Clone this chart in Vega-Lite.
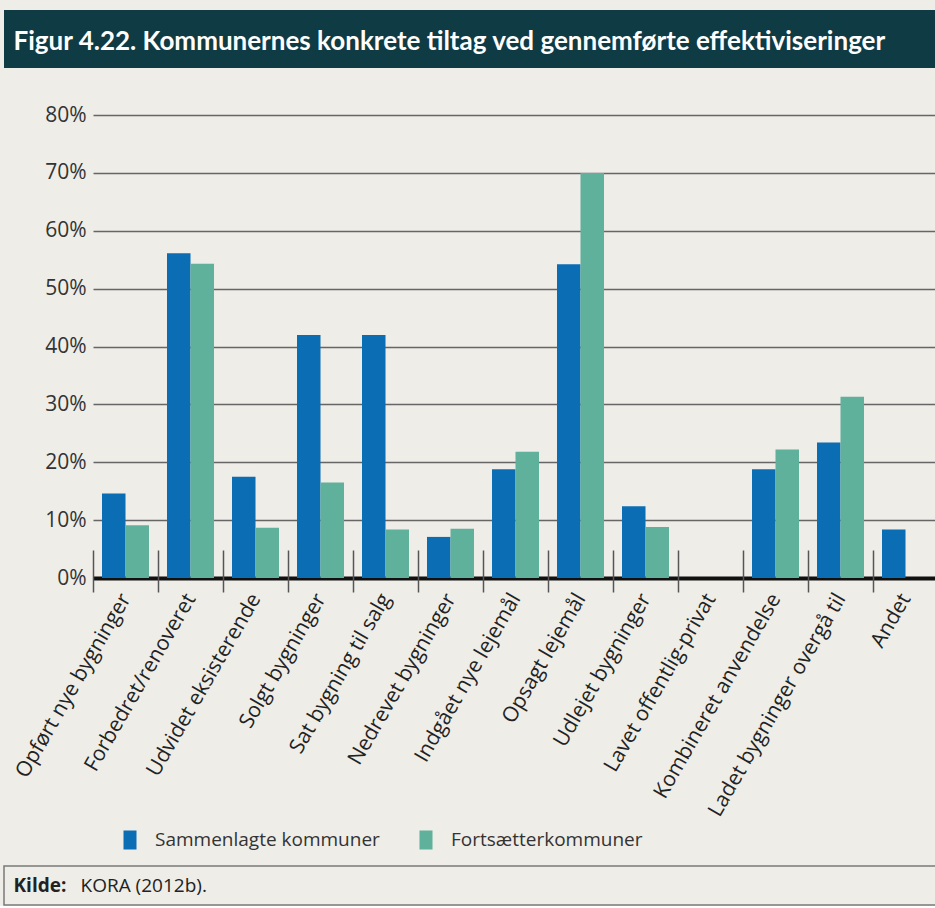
{
  "$schema": "https://vega.github.io/schema/vega-lite/v6.json",
  "background": "#eeede7",
  "padding": {"left": 3, "top": 10, "right": 0, "bottom": 0},
  "config": {"font": "Open Sans", "view": {"stroke": null}},
  "spacing": 47,
  "bounds": "flush",
  "center": true,
  "vconcat": [
    {
      "width": 1023,
      "height": 58,
      "view": {"fill": "#0f3b44", "stroke": null},
      "data": {"values": [{"t": "Figur 4.22. Kommunernes konkrete tiltag ved gennemførte effektiviseringer"}]},
      "mark": {"type": "text", "align": "left", "baseline": "middle", "dx": -502, "dy": 3, "font": "Lato", "fontWeight": "bold", "fontSize": 26, "color": "#ffffff"},
      "encoding": {"text": {"field": "t"}}
    },
    {
      "width": 845,
      "height": 463,
      "data": {"values": [
        {"kategori": "Opført nye bygninger", "gruppe": "Sammenlagte kommuner", "andel": 0.146},
        {"kategori": "Opført nye bygninger", "gruppe": "Fortsætterkommuner", "andel": 0.091},
        {"kategori": "Forbedret/renoveret", "gruppe": "Sammenlagte kommuner", "andel": 0.561},
        {"kategori": "Forbedret/renoveret", "gruppe": "Fortsætterkommuner", "andel": 0.543},
        {"kategori": "Udvidet eksisterende", "gruppe": "Sammenlagte kommuner", "andel": 0.175},
        {"kategori": "Udvidet eksisterende", "gruppe": "Fortsætterkommuner", "andel": 0.087},
        {"kategori": "Solgt bygninger", "gruppe": "Sammenlagte kommuner", "andel": 0.42},
        {"kategori": "Solgt bygninger", "gruppe": "Fortsætterkommuner", "andel": 0.165},
        {"kategori": "Sat bygning til salg", "gruppe": "Sammenlagte kommuner", "andel": 0.42},
        {"kategori": "Sat bygning til salg", "gruppe": "Fortsætterkommuner", "andel": 0.084},
        {"kategori": "Nedrevet bygninger", "gruppe": "Sammenlagte kommuner", "andel": 0.071},
        {"kategori": "Nedrevet bygninger", "gruppe": "Fortsætterkommuner", "andel": 0.085},
        {"kategori": "Indgået nye lejemål", "gruppe": "Sammenlagte kommuner", "andel": 0.188},
        {"kategori": "Indgået nye lejemål", "gruppe": "Fortsætterkommuner", "andel": 0.218},
        {"kategori": "Opsagt lejemål", "gruppe": "Sammenlagte kommuner", "andel": 0.542},
        {"kategori": "Opsagt lejemål", "gruppe": "Fortsætterkommuner", "andel": 0.70},
        {"kategori": "Udlejet bygninger", "gruppe": "Sammenlagte kommuner", "andel": 0.124},
        {"kategori": "Udlejet bygninger", "gruppe": "Fortsætterkommuner", "andel": 0.088},
        {"kategori": "Lavet offentlig-privat", "gruppe": "Sammenlagte kommuner", "andel": 0},
        {"kategori": "Lavet offentlig-privat", "gruppe": "Fortsætterkommuner", "andel": 0},
        {"kategori": "Kombineret anvendelse", "gruppe": "Sammenlagte kommuner", "andel": 0.188},
        {"kategori": "Kombineret anvendelse", "gruppe": "Fortsætterkommuner", "andel": 0.222},
        {"kategori": "Ladet bygninger overgå til", "gruppe": "Sammenlagte kommuner", "andel": 0.234},
        {"kategori": "Ladet bygninger overgå til", "gruppe": "Fortsætterkommuner", "andel": 0.313},
        {"kategori": "Andet", "gruppe": "Sammenlagte kommuner", "andel": 0.084}
      ]},
      "mark": {"type": "bar"},
      "encoding": {
        "x": {
          "field": "kategori", "type": "nominal", "sort": null,
          "scale": {"paddingInner": 0, "paddingOuter": 0},
          "axis": {
            "title": null, "labelAngle": -60, "labelFontSize": 21, "labelColor": "#222222",
            "labelLimit": 400, "labelOverlap": false, "domain": false, "grid": false,
            "ticks": true, "tickBand": "extent", "tickSize": 42, "tickColor": "#555555",
            "tickWidth": 1.5, "offset": -28, "labelPadding": 3
          }
        },
        "xOffset": {
          "field": "gruppe", "type": "nominal",
          "sort": ["Sammenlagte kommuner", "Fortsætterkommuner"],
          "scale": {"paddingInner": 0, "paddingOuter": 0.383}
        },
        "y": {
          "field": "andel", "type": "quantitative",
          "scale": {"domain": [0, 0.8], "nice": false},
          "axis": {
            "title": null, "format": ".0%",
            "values": [0, 0.1, 0.2, 0.3, 0.4, 0.5, 0.6, 0.7, 0.8],
            "labelFontSize": 21, "labelColor": "#333333", "labelPadding": 7,
            "ticks": false, "domain": false,
            "gridColor": {"condition": {"test": "datum.value === 0", "value": "#111111"}, "value": "#666666"},
            "gridWidth": {"condition": {"test": "datum.value === 0", "value": 4}, "value": 1.5}
          }
        },
        "color": {
          "field": "gruppe", "type": "nominal",
          "scale": {"domain": ["Sammenlagte kommuner", "Fortsætterkommuner"], "range": ["#0b6db4", "#5fb19c"]},
          "legend": {
            "title": null, "orient": "none", "legendX": 116, "legendY": 820,
            "direction": "horizontal",
            "symbolType": "M-0.65,-0.95H0.65V0.95H-0.65Z", "symbolSize": 400, "symbolStrokeWidth": 0,
            "labelFontSize": 19, "labelColor": "#333333", "labelOffset": 15, "labelLimit": 400,
            "columnPadding": 36
          }
        }
      }
    },
    {
      "width": 1023,
      "height": 194,
      "data": {"values": []},
      "mark": {"type": "point", "opacity": 0},
      "encoding": {}
    },
    {
      "width": 1023,
      "height": 39,
      "view": {"stroke": "#7a7a7a", "strokeWidth": 1.5, "fill": null},
      "layer": [
        {
          "data": {"values": [{"t": "Kilde:"}]},
          "mark": {"type": "text", "align": "left", "baseline": "middle", "dx": -502, "fontWeight": "bold", "fontSize": 19, "color": "#222222"},
          "encoding": {"text": {"field": "t"}}
        },
        {
          "data": {"values": [{"t": "KORA (2012b)."}]},
          "mark": {"type": "text", "align": "left", "baseline": "middle", "dx": -435, "fontSize": 19, "color": "#222222"},
          "encoding": {"text": {"field": "t"}}
        }
      ]
    }
  ]
}
